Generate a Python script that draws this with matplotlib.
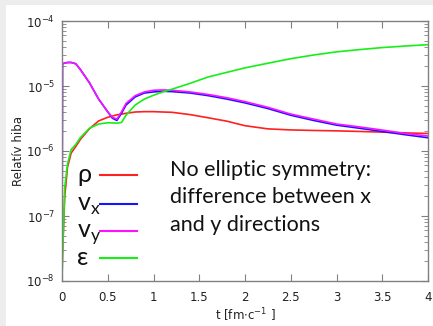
import numpy as np
import matplotlib
matplotlib.use("Agg")
import matplotlib.pyplot as plt
from matplotlib.lines import Line2D
from matplotlib.patches import Rectangle
from matplotlib.ticker import LogLocator, MultipleLocator

# time grid [fm/c] and relative errors of each field
t = [0.0, 0.005, 0.03, 0.06, 0.1, 0.15, 0.2, 0.3, 0.4, 0.5, 0.55, 0.6, 0.65,
     0.7, 0.8, 0.9, 1.0, 1.1, 1.2, 1.4, 1.6, 1.8, 2.0, 2.25, 2.5, 2.75, 3.0,
     3.25, 3.5, 3.75, 4.0]

rho = [1e-8, 2.5e-8, 2.0e-7, 5.6e-7, 9.3e-7, 1.17e-6, 1.5e-6, 2.2e-6, 2.9e-6,
       3.3e-6, 3.45e-6, 3.6e-6, 3.7e-6, 3.8e-6, 3.98e-6, 4.03e-6, 4.03e-6,
       3.98e-6, 3.94e-6, 3.63e-6, 3.24e-6, 2.88e-6, 2.45e-6, 2.19e-6, 2.11e-6,
       2.07e-6, 2.04e-6, 2.0e-6, 1.95e-6, 1.9e-6, 1.86e-6]

v_x = [1e-8, 2.2e-5, 2.25e-5, 2.3e-5, 2.3e-5, 2.2e-5, 1.8e-5, 1.12e-5, 6.3e-6,
       4.0e-6, 3.2e-6, 2.95e-6, 3.8e-6, 5.1e-6, 6.8e-6, 7.8e-6, 8.1e-6,
       8.3e-6, 8.2e-6, 7.8e-6, 7.1e-6, 6.3e-6, 5.5e-6, 4.5e-6, 3.55e-6,
       2.95e-6, 2.5e-6, 2.24e-6, 2.0e-6, 1.78e-6, 1.6e-6]

v_y = [1e-8, 2.2e-5, 2.25e-5, 2.3e-5, 2.3e-5, 2.2e-5, 1.8e-5, 1.12e-5, 6.3e-6,
       4.0e-6, 3.3e-6, 3.1e-6, 4.0e-6, 5.4e-6, 7.1e-6, 8.1e-6, 8.6e-6,
       8.7e-6, 8.6e-6, 8.1e-6, 7.4e-6, 6.6e-6, 5.75e-6, 4.7e-6, 3.7e-6,
       3.1e-6, 2.6e-6, 2.35e-6, 2.1e-6, 1.86e-6, 1.7e-6]

eps = [1e-8, 2.0e-8, 2.8e-7, 6.3e-7, 1.05e-6, 1.26e-6, 1.6e-6, 2.24e-6, 2.6e-6,
       2.72e-6, 2.7e-6, 2.68e-6, 2.75e-6, 3.55e-6, 5.1e-6, 6.3e-6, 7.2e-6,
       8.1e-6, 8.9e-6, 1.1e-5, 1.38e-5, 1.62e-5, 1.9e-5, 2.24e-5, 2.63e-5,
       3.0e-5, 3.35e-5, 3.63e-5, 3.9e-5, 4.12e-5, 4.32e-5]

labels = ["ρ", r"v$_\mathregular{x}$", r"v$_\mathregular{y}$", "ε"]
colors = ["#ff2020", "#1414ff", "#ff10ff", "#18ee18"]
series = [rho, v_x, v_y, eps]

fig = plt.figure(figsize=(4.33, 3.26), dpi=100, facecolor="#ededed")
fig.patches.append(Rectangle((6 / 433, 0), 1, 1 - 5 / 326, transform=fig.transFigure,
                             facecolor="white", edgecolor="none", zorder=-10))
ax = fig.add_axes([62 / 433, 1 - 281 / 326, 366 / 433, 260 / 326])
ax.set_zorder(5)

for y, c in zip(series, colors):
    ax.plot(t, y, color=c, lw=1.2)

ax.set_yscale("log")
ax.set_xlim(0, 4)
ax.set_ylim(1e-8, 1e-4)
ax.xaxis.set_major_locator(MultipleLocator(0.5))
ax.xaxis.set_major_formatter(plt.FuncFormatter(lambda v, p: f"{v:g}"))
ax.yaxis.set_major_locator(LogLocator(base=10, numticks=10))
ax.yaxis.set_minor_locator(LogLocator(base=10, subs=np.arange(2, 10), numticks=10))
ax.yaxis.set_minor_formatter(plt.NullFormatter())

for s in ax.spines.values():
    s.set_color("#808080")
    s.set_linewidth(1.0)
ax.tick_params(which="both", direction="in", top=True, right=True,
               color="#808080", labelsize=8.5, labelcolor="#222222")
ax.tick_params(which="major", length=5, pad=5)
ax.tick_params(axis="x", which="major", pad=7)
ax.tick_params(which="minor", length=3)

ax.set_xlabel(r"t [fm$\cdot$c$^{-1}$ ]", fontsize=8.5, color="#222222", labelpad=2)
ax.set_ylabel("Relatív hiba", fontsize=8.5, color="#222222", labelpad=1)

# hand-made key: big symbol on the left, short colour bar to its right
key_y = [0.408, 0.296, 0.192, 0.088]
for ky, lab, c in zip(key_y, labels, colors):
    ax.add_line(Line2D([0.104, 0.205], [ky, ky], transform=ax.transAxes,
                       color=c, lw=1.5))
    ax.text(0.041, ky - 0.027, lab, transform=ax.transAxes, family="Lato",
            fontsize=18, color="#111111", va="baseline", ha="left")

ax.text(0.295, 0.465, "No elliptic symmetry:\ndifference between x\nand y directions",
        transform=ax.transAxes, family="Lato", fontsize=15.5, color="#111111",
        va="top", ha="left", linespacing=1.46)

fig.savefig("out.png", dpi=100, facecolor=fig.get_facecolor())
